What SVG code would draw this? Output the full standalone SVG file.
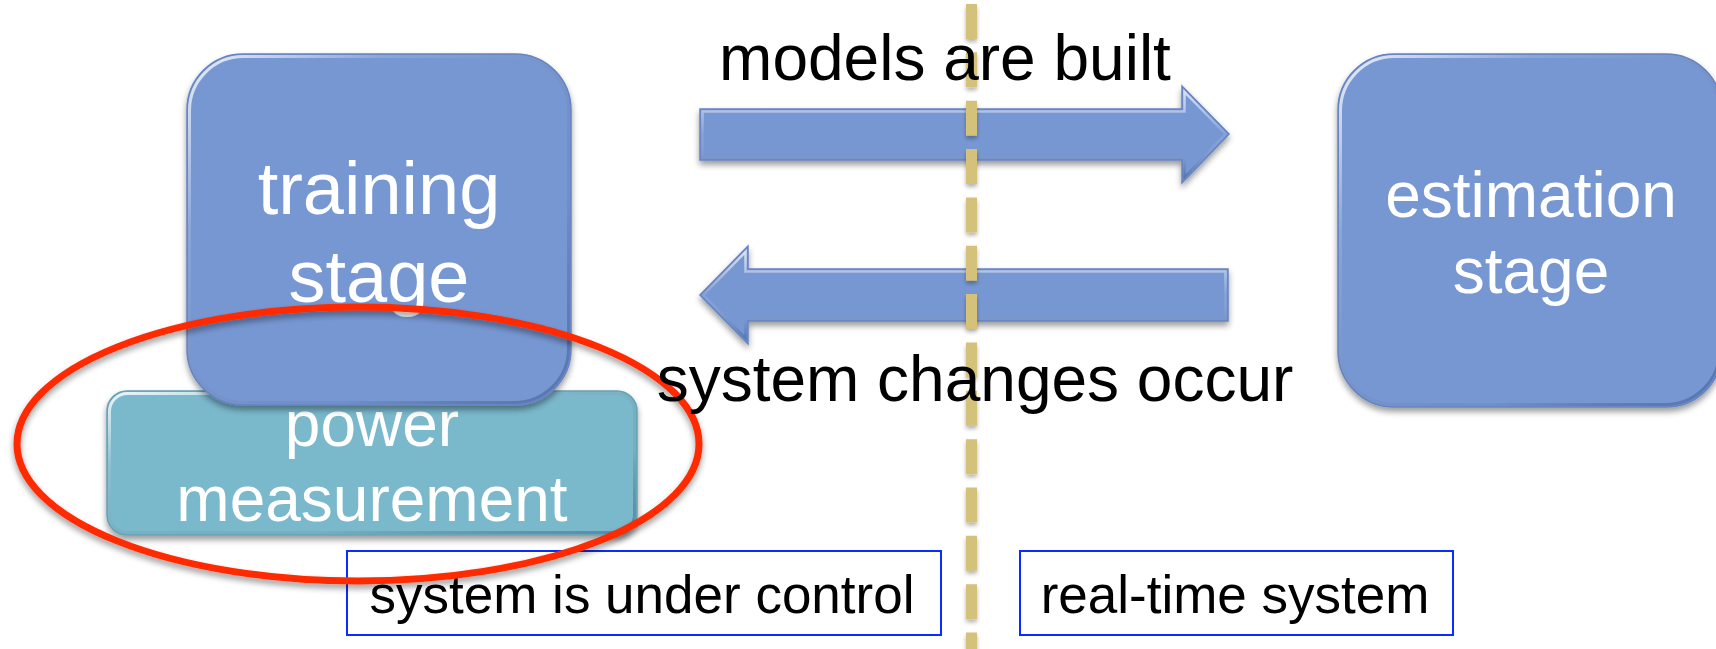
<svg xmlns="http://www.w3.org/2000/svg" width="1716" height="649" viewBox="0 0 1716 649">
  <defs>
    <filter id="shadow" x="-10%" y="-10%" width="120%" height="130%">
      <feGaussianBlur in="SourceAlpha" stdDeviation="3"/>
      <feOffset dx="0" dy="4" result="b"/>
      <feComponentTransfer><feFuncA type="linear" slope="0.4"/></feComponentTransfer>
      <feMerge><feMergeNode/><feMergeNode in="SourceGraphic"/></feMerge>
    </filter>
    <filter id="softshadow" filterUnits="userSpaceOnUse" x="940" y="-10" width="60" height="680">
      <feGaussianBlur in="SourceAlpha" stdDeviation="2"/>
      <feOffset dx="0" dy="3" result="b"/>
      <feComponentTransfer><feFuncA type="linear" slope="0.3"/></feComponentTransfer>
      <feMerge><feMergeNode/><feMergeNode in="SourceGraphic"/></feMerge>
    </filter>
    <linearGradient id="bevel" x1="0" y1="0" x2="1" y2="1">
      <stop offset="0" stop-color="#ffffff" stop-opacity="0.85"/>
      <stop offset="0.25" stop-color="#ffffff" stop-opacity="0.15"/>
      <stop offset="0.7" stop-color="#000000" stop-opacity="0.05"/>
      <stop offset="1" stop-color="#1d3a70" stop-opacity="0.35"/>
    </linearGradient>
    <linearGradient id="bevelArrow" x1="0" y1="0" x2="0" y2="1">
      <stop offset="0" stop-color="#ffffff" stop-opacity="0.7"/>
      <stop offset="0.5" stop-color="#ffffff" stop-opacity="0.1"/>
      <stop offset="1" stop-color="#1d3a70" stop-opacity="0.35"/>
    </linearGradient>
  </defs>
  <style>
    .stage { fill: #7797d3; stroke: #6583c0; stroke-width: 1.5; }
    .meas { fill: #7ab8cc; stroke: #66a0b4; stroke-width: 1.5; }
    .bevel { fill: none; stroke: url(#bevel); stroke-width: 3; }
    .arrow { fill: #7797d3; stroke: #6583c0; stroke-width: 1.5; }
    .arrowBevel { fill: none; stroke: url(#bevelArrow); stroke-width: 2.5; }
    .white { font-family: "Liberation Sans", Arial, sans-serif; fill: #ffffff; text-anchor: middle; }
    .label { font-family: "Liberation Sans", Arial, sans-serif; fill: #000000; text-anchor: middle; font-size: 64px; }
    .tag { font-family: "Liberation Sans", Arial, sans-serif; fill: #000000; text-anchor: middle; font-size: 53px; }
    .tagbox { fill: #ffffff; stroke: #0a2cff; stroke-width: 2; }
  </style>

  <rect width="1716" height="649" fill="#ffffff"/>

  <!-- power measurement block, below the training stage -->
  <g id="power-measurement" filter="url(#shadow)">
    <rect class="meas" x="107" y="391" width="530" height="144" rx="20"/>
    <rect class="bevel" x="109.5" y="393.5" width="525" height="139" rx="18"/>
    <text class="white" font-size="64" x="372" y="446">power</text>
    <text class="white" font-size="64" x="372" y="521">measurement</text>
  </g>

  <!-- training stage -->
  <g id="training-stage" filter="url(#shadow)">
    <rect class="stage" x="187" y="54" width="384" height="351" rx="56"/>
    <rect class="bevel" x="189.5" y="56.5" width="379" height="346" rx="54"/>
    <text class="white" font-size="74" x="379" y="214">training</text>
    <text class="white" font-size="74" x="379" y="302">stage</text>
  </g>

  <!-- estimation stage (runs past the right edge) -->
  <g id="estimation-stage" filter="url(#shadow)">
    <rect class="stage" x="1338" y="54" width="384" height="353" rx="56"/>
    <rect class="bevel" x="1340.5" y="56.5" width="379" height="348" rx="54"/>
    <text class="white" font-size="64" x="1531" y="217">estimation</text>
    <text class="white" font-size="64" x="1531" y="293">stage</text>
  </g>

  <!-- connectors -->
  <g id="connectors">
    <g id="models-built-arrow" filter="url(#shadow)">
      <path class="arrow" d="M700,109 H1182 V86 L1229,134 L1182,183 V160 H700 Z"/>
      <path class="arrowBevel" d="M702.5,111.5 H1184.5 V92 L1225.5,134 L1184.5,177 V157.5 H702.5 Z"/>
    </g>
    <g id="system-changes-arrow" filter="url(#shadow)">
      <path class="arrow" d="M1228,269 H748 V246 L700,295 L748,344 V321 H1228 Z"/>
      <path class="arrowBevel" d="M1225.5,271.5 H745.5 V252 L703.5,295 L745.5,338 V318.5 H1225.5 Z"/>
    </g>
  </g>

  <!-- boundary between controlled and real-time system -->
  <g id="divider" filter="url(#softshadow)">
    <path d="M971.5,0 V649" fill="none" stroke="#d4c17a" stroke-width="11" stroke-dasharray="35 13.35" stroke-dashoffset="-4"/>
  </g>

  <g id="label-models">
    <text class="label" x="945" y="80">models are built</text>
  </g>

  <g id="tag-under-control">
    <rect class="tagbox" x="347" y="551" width="594" height="84"/>
    <text class="tag" x="642" y="613">system is under control</text>
  </g>

  <g id="tag-real-time">
    <rect class="tagbox" x="1020" y="551" width="433" height="84"/>
    <text class="tag" x="1235" y="613">real-time system</text>
  </g>

  <!-- highlight ring around the measurement part -->
  <g id="highlight" filter="url(#shadow)">
    <ellipse cx="358" cy="444" rx="341" ry="137" fill="none" stroke="#ff2a00" stroke-width="7"/>
  </g>

  <g id="label-changes">
    <text class="label" x="975" y="401">system changes occur</text>
  </g>
</svg>
